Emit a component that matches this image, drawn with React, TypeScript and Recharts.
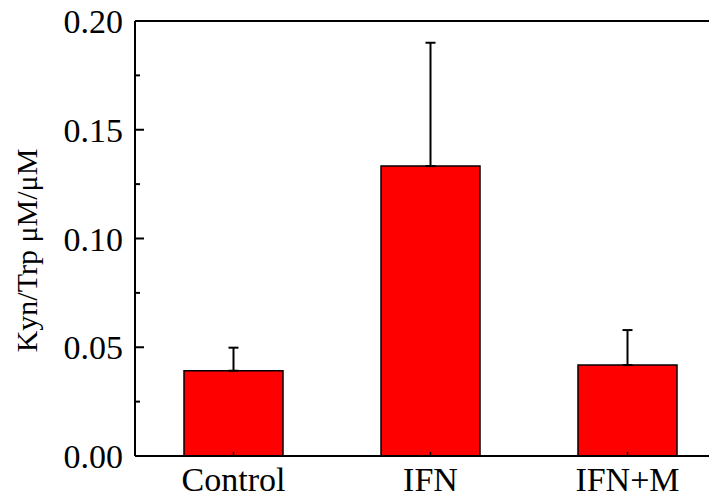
import React from "react";
import { BarChart, Bar, XAxis, YAxis, ErrorBar, ReferenceLine } from "recharts";

// Kyn/Trp ratio per treatment group, with upper standard deviation
const groups = ["Control", "IFN", "IFN+M"];
const ratioMeans = [0.0392, 0.1333, 0.0418];
const ratioErrors = [0.0106, 0.0567, 0.0161];
const yTicks = [0, 0.025, 0.05, 0.075, 0.1, 0.125, 0.15, 0.175, 0.2];
const yTickLabels = ["0.00", "", "0.05", "", "0.10", "", "0.15", "", "0.20"];

const data = groups.map((g, i) => ({
  group: g,
  ratio: ratioMeans[i],
  err: [0, ratioErrors[i]],
}));

const FONT = "Liberation Serif";

const YTick = (props: any) => {
  const { x, y, index } = props;
  const label = yTickLabels[index];
  const major = label !== "";
  return (
    <g>
      <line x1={x} y1={y} x2={x + (major ? 9 : 5)} y2={y} stroke="#000" strokeWidth={2} />
      {major && (
        <text x={x - 12} y={y + 12} textAnchor="end" fontFamily={FONT} fontSize={34} fill="#000">
          {label}
        </text>
      )}
    </g>
  );
};

const XTick = (props: any) => {
  const { x, y, payload } = props;
  return (
    <g>
      <line x1={x} y1={y} x2={x} y2={y - 4} stroke="#000" strokeWidth={1.5} />
      <text x={x} y={y + 35} textAnchor="middle" fontFamily={FONT} fontSize={34} fill="#000">
        {payload.value}
      </text>
    </g>
  );
};

const YLabel = (props: any) => {
  const { viewBox } = props;
  const cx = viewBox.x + 37;
  const cy = viewBox.y + viewBox.height / 2 + 12;
  return (
    <text
      x={cx}
      y={cy}
      transform={`rotate(-90, ${cx}, ${cy})`}
      textAnchor="middle"
      fontFamily={FONT}
      fontSize={30}
      fill="#000"
    >
      Kyn/Trp μM/μM
    </text>
  );
};

export default function App() {
  return (
    <div style={{ margin: "-8px 0 0 -8px", width: 717, height: 494 }}>
      <BarChart
        width={717}
        height={502}
        data={data}
        margin={{ top: 21, right: -9, bottom: 0, left: 0 }}
      >
        <XAxis
          dataKey="group"
          height={46}
          axisLine={{ stroke: "#000", strokeWidth: 2 }}
          tickLine={false}
          tickSize={0}
          tickMargin={0}
          tick={<XTick />}
          interval={0}
        />
        <YAxis
          width={135}
          domain={[0, 0.2]}
          ticks={yTicks}
          interval={0}
          axisLine={{ stroke: "#000", strokeWidth: 2 }}
          tickLine={false}
          tickSize={0}
          tickMargin={0}
          tick={<YTick />}
          label={<YLabel />}
        />
        <ReferenceLine y={0.2} stroke="#000" strokeWidth={2} />
        <Bar
          dataKey="ratio"
          fill="#ff0000"
          stroke="#000"
          strokeWidth={1.5}
          barSize={99}
          isAnimationActive={false}
        >
          <ErrorBar dataKey="err" width={5} stroke="#000" strokeWidth={2} direction="y" />
        </Bar>
      </BarChart>
    </div>
  );
}
